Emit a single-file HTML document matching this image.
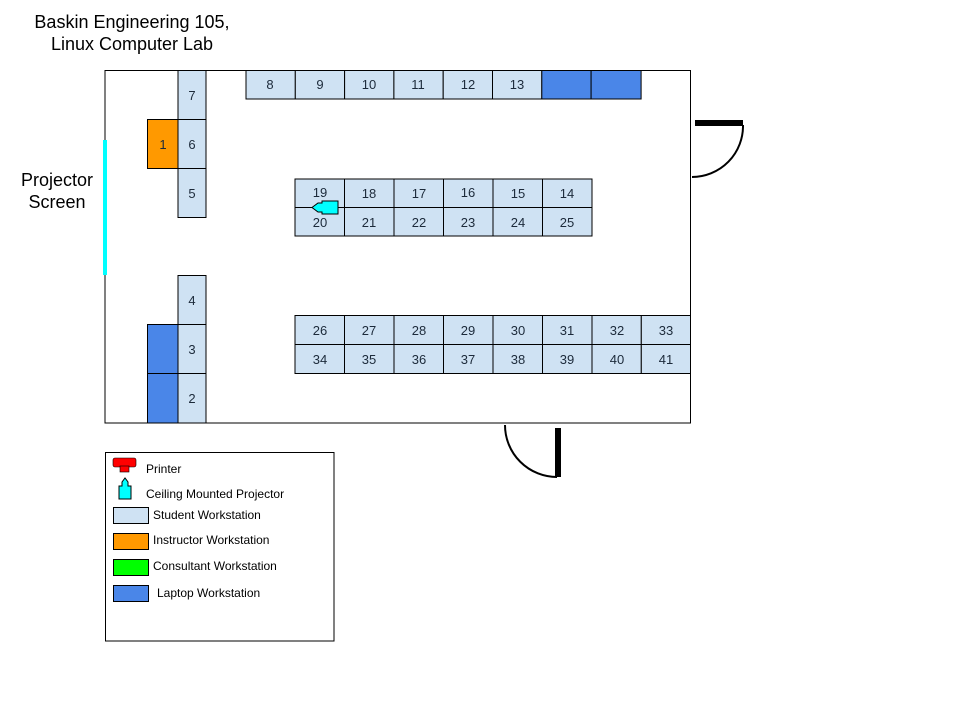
<!DOCTYPE html>
<html><head><meta charset="utf-8"><style>
html,body{margin:0;padding:0;background:#fff;}
svg{display:block;font-family:"Liberation Sans",Arial,sans-serif;}
</style></head><body>
<svg width="960" height="720" viewBox="0 0 960 720" xmlns="http://www.w3.org/2000/svg">
<rect width="960" height="720" fill="#fff"/>
<text x="132" y="28" font-size="18" text-anchor="middle" fill="#000">Baskin Engineering 105,</text>
<text x="132" y="50" font-size="18" text-anchor="middle" fill="#000">Linux Computer Lab</text>
<text x="57" y="186" font-size="18" text-anchor="middle">Projector</text>
<text x="57" y="208" font-size="18" text-anchor="middle">Screen</text>
<rect x="105" y="70.5" width="585.5" height="352.5" fill="none" stroke="#000" stroke-width="1"/>
<rect x="103" y="140" width="4" height="135" fill="#00ffff"/>
<g stroke="#000" stroke-width="1" font-size="12" text-anchor="middle">
<rect x="178" y="70.5" width="28" height="49" fill="#cfe2f3"/>
<rect x="178" y="119.5" width="28" height="49" fill="#cfe2f3"/>
<rect x="178" y="168.5" width="28" height="49" fill="#cfe2f3"/>
<rect x="147.5" y="119.5" width="30.5" height="49" fill="#ff9900"/>
<rect x="178" y="275.5" width="28" height="49" fill="#cfe2f3"/>
<rect x="178" y="324.5" width="28" height="49" fill="#cfe2f3"/>
<rect x="178" y="373.5" width="28" height="49.5" fill="#cfe2f3"/>
<rect x="147.5" y="324.5" width="30.5" height="49" fill="#4a86e8"/>
<rect x="147.5" y="373.5" width="30.5" height="49.5" fill="#4a86e8"/>
<rect x="246" y="70.5" width="49.3" height="28.5" fill="#cfe2f3"/>
<rect x="295.3" y="70.5" width="49.3" height="28.5" fill="#cfe2f3"/>
<rect x="344.6" y="70.5" width="49.3" height="28.5" fill="#cfe2f3"/>
<rect x="393.9" y="70.5" width="49.3" height="28.5" fill="#cfe2f3"/>
<rect x="443.2" y="70.5" width="49.3" height="28.5" fill="#cfe2f3"/>
<rect x="492.5" y="70.5" width="49.3" height="28.5" fill="#cfe2f3"/>
<rect x="541.8" y="70.5" width="49.3" height="28.5" fill="#4a86e8"/>
<rect x="591.1" y="70.5" width="50" height="28.5" fill="#4a86e8"/>
<g fill="#cfe2f3">
<rect x="295" y="179" width="49.5" height="28.5"/><rect x="344.5" y="179" width="49.5" height="28.5"/><rect x="394" y="179" width="49.5" height="28.5"/><rect x="443.5" y="179" width="49.5" height="28.5"/><rect x="493" y="179" width="49.5" height="28.5"/><rect x="542.5" y="179" width="49.5" height="28.5"/>
<rect x="295" y="207.5" width="49.5" height="28.5"/><rect x="344.5" y="207.5" width="49.5" height="28.5"/><rect x="394" y="207.5" width="49.5" height="28.5"/><rect x="443.5" y="207.5" width="49.5" height="28.5"/><rect x="493" y="207.5" width="49.5" height="28.5"/><rect x="542.5" y="207.5" width="49.5" height="28.5"/>
<rect x="295" y="315.5" width="49.5" height="29"/><rect x="344.5" y="315.5" width="49.5" height="29"/><rect x="394" y="315.5" width="49.5" height="29"/><rect x="443.5" y="315.5" width="49.5" height="29"/><rect x="493" y="315.5" width="49.5" height="29"/><rect x="542.5" y="315.5" width="49.5" height="29"/><rect x="592" y="315.5" width="49.3" height="29"/><rect x="641.3" y="315.5" width="49.2" height="29"/>
<rect x="295" y="344.5" width="49.5" height="29"/><rect x="344.5" y="344.5" width="49.5" height="29"/><rect x="394" y="344.5" width="49.5" height="29"/><rect x="443.5" y="344.5" width="49.5" height="29"/><rect x="493" y="344.5" width="49.5" height="29"/><rect x="542.5" y="344.5" width="49.5" height="29"/><rect x="592" y="344.5" width="49.3" height="29"/><rect x="641.3" y="344.5" width="49.2" height="29"/>
</g>
</g>
<g font-size="13" text-anchor="middle" fill="#1c2a3a">
<text x="192" y="100">7</text><text x="192" y="149">6</text><text x="192" y="198">5</text><text x="163" y="149">1</text>
<text x="192" y="305">4</text><text x="192" y="354">3</text><text x="192" y="403">2</text>
<text x="270" y="89">8</text><text x="320" y="89">9</text><text x="369" y="89">10</text><text x="418" y="89">11</text><text x="468" y="89">12</text><text x="517" y="89">13</text>
<text x="320" y="197">19</text><text x="369" y="198">18</text><text x="419" y="198">17</text><text x="468" y="197">16</text><text x="518" y="198">15</text><text x="567" y="198">14</text>
<text x="320" y="227">20</text><text x="369" y="227">21</text><text x="419" y="227">22</text><text x="468" y="227">23</text><text x="518" y="227">24</text><text x="567" y="227">25</text>
<text x="320" y="335">26</text><text x="369" y="335">27</text><text x="419" y="335">28</text><text x="468" y="335">29</text><text x="518" y="335">30</text><text x="567" y="335">31</text><text x="617" y="335">32</text><text x="666" y="335">33</text>
<text x="320" y="364">34</text><text x="369" y="364">35</text><text x="419" y="364">36</text><text x="468" y="364">37</text><text x="518" y="364">38</text><text x="567" y="364">39</text><text x="617" y="364">40</text><text x="666" y="364">41</text>
</g>
<path d="M338 201 L322 201 L322 203 L318 203 L312 207.5 L318 212 L322 212 L322 214 L338 214 Z" fill="#00ffff" stroke="#000" stroke-width="1"/>
<rect x="695" y="120" width="48" height="6" fill="#000"/>
<path d="M743 125 A51 51 0 0 1 692 177" fill="none" stroke="#000" stroke-width="2"/>
<rect x="555" y="428" width="6" height="49" fill="#000"/>
<path d="M505 425 A52 52 0 0 0 557 477" fill="none" stroke="#000" stroke-width="2"/>
<rect x="105.5" y="452.5" width="228.5" height="188.5" fill="none" stroke="#000" stroke-width="1"/>
<rect x="113" y="458" width="23" height="9" rx="2" fill="#ff0000" stroke="#000" stroke-width="0.6"/>
<rect x="120" y="466" width="9" height="6" fill="#ff0000" stroke="#000" stroke-width="0.6"/>
<path d="M119 499 L119 486 L122 486 L122 482 L125 478 L128 482 L128 486 L131 486 L131 499 Z" fill="#00ffff" stroke="#000" stroke-width="1"/>
<g stroke="#000" stroke-width="1">
<rect x="113.5" y="507.5" width="35" height="16" fill="#cfe2f3"/>
<rect x="113.5" y="533.5" width="35" height="16" fill="#ff9900"/>
<rect x="113.5" y="559.5" width="35" height="16" fill="#00ff00"/>
<rect x="113.5" y="585.5" width="35" height="16" fill="#4a86e8"/>
</g>
<g font-size="12" fill="#000">
<text x="146" y="473">Printer</text>
<text x="146" y="498">Ceiling Mounted Projector</text>
<text x="153" y="519">Student Workstation</text>
<text x="153" y="544">Instructor Workstation</text>
<text x="153" y="570">Consultant Workstation</text>
<text x="157" y="597">Laptop Workstation</text>
</g>
</svg>
</body></html>
